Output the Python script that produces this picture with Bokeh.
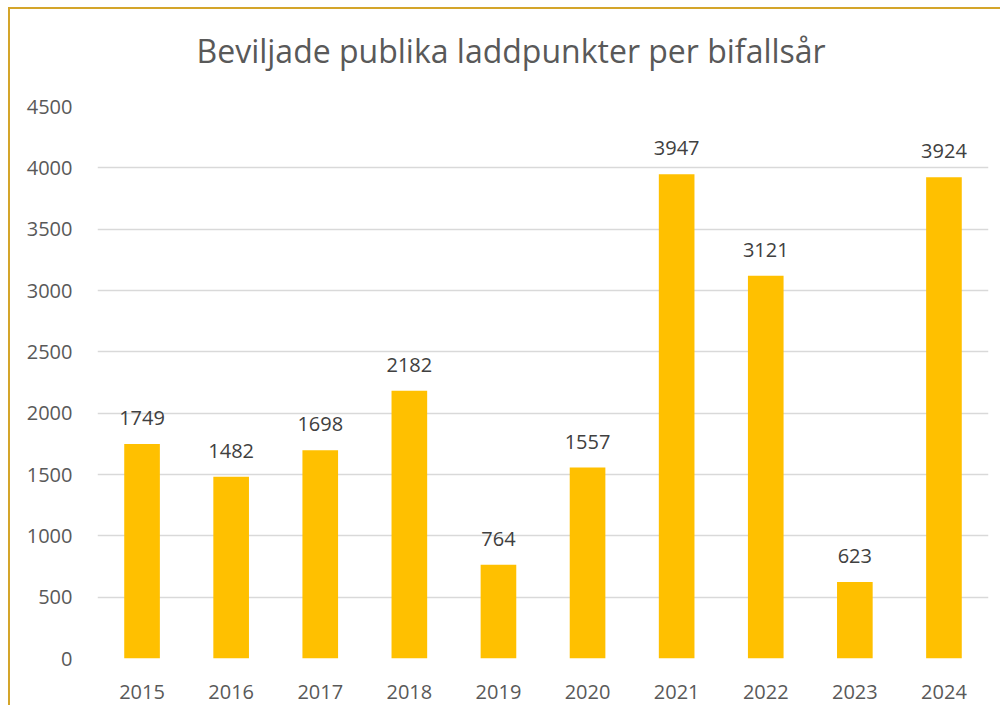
from bokeh.plotting import figure
from bokeh.models import ColumnDataSource, LabelSet, Range1d, FixedTicker, Title
from bokeh.core.properties import value
from bokeh.embed import file_html
from bokeh.resources import INLINE

years = ["2015", "2016", "2017", "2018", "2019", "2020", "2021", "2022", "2023", "2024"]
values = [1749, 1482, 1698, 2182, 764, 1557, 3947, 3121, 623, 3924]
y_ticks = [0, 500, 1000, 1500, 2000, 2500, 3000, 3500, 4000, 4500]
title_text = "Beviljade publika laddpunkter per bifallsår"

source = ColumnDataSource(data=dict(year=years, value=values, label=[str(v) for v in values]))

p = figure(x_range=years, y_range=Range1d(0, 4500), width=992, height=698,
           output_backend="svg", toolbar_location=None,
           min_border_left=87, min_border_right=14, min_border_top=97, min_border_bottom=49)
p.styles = {"border-left": "2px solid #D4A52A", "border-top": "2px solid #D4A52A",
            "margin-left": "8px", "margin-top": "7px"}

p.title.text = title_text
p.title.align = "left"
p.title.offset = 99
p.title.standoff = 20
p.title.text_font = "Open Sans"
p.title.text_font_size = "32px"
p.title.text_color = "#595959"
p.title.text_font_style = "normal"

spacer = Title(text=" ", text_font_size="1px", standoff=22)
p.add_layout(spacer, "above")

p.vbar(x="year", top="value", width=0.40, source=source, color="#FFC000", line_color=None)

labels = LabelSet(x="year", y="value", text="label", source=source, y_offset=26,
                  text_align="center", text_baseline="middle", text_font=value("Open Sans"),
                  text_font_size="20px", text_color="#404040")
p.add_layout(labels)

p.outline_line_color = None
p.background_fill_color = "white"
p.border_fill_color = "white"
p.x_range.range_padding = 0

p.yaxis.ticker = FixedTicker(ticks=y_ticks)
p.ygrid.grid_line_color = "#D9D9D9"
p.ygrid.grid_line_width = 1.5
p.xgrid.grid_line_color = None

for ax in (p.xaxis, p.yaxis):
    ax.axis_line_color = None
    ax.major_tick_line_color = None
    ax.minor_tick_line_color = None
    ax.major_label_text_font = "Open Sans"
    ax.major_label_text_font_size = "20px"
    ax.major_label_text_color = "#595959"

p.yaxis.major_label_standoff = 19
p.xaxis.major_label_standoff = 20

open("out.html", "w").write(file_html(p, INLINE))
